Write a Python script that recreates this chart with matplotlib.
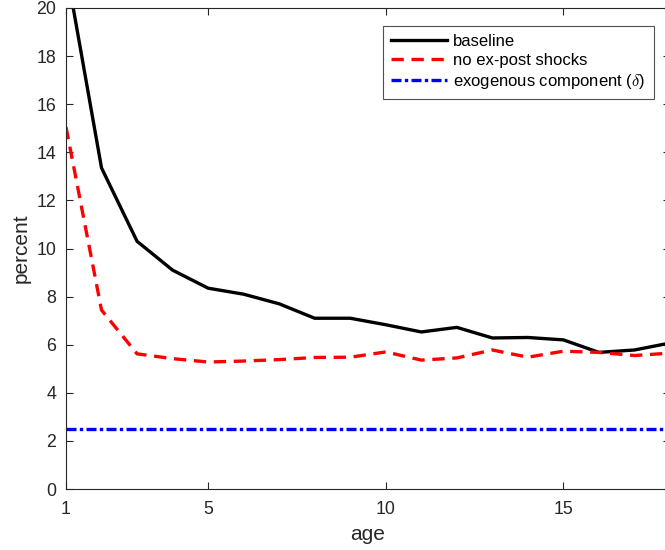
import numpy as np
import matplotlib.pyplot as plt

plt.rcParams['font.family'] = ['Liberation Sans', 'DejaVu Sans']
plt.rcParams['mathtext.fontset'] = 'cm'

age = np.arange(1, 19)
baseline = [21.7, 13.35, 10.3, 9.1, 8.35, 8.1, 7.7, 7.1, 7.1, 6.83,
            6.53, 6.72, 6.28, 6.3, 6.2, 5.68, 5.78, 6.07]
no_expost = [15.05, 7.44, 5.62, 5.42, 5.28, 5.32, 5.38, 5.47, 5.48, 5.7,
             5.36, 5.45, 5.78, 5.48, 5.73, 5.68, 5.55, 5.65]
delta = [2.5] * len(age)

fig = plt.figure(figsize=(6.65, 5.5), dpi=100)
ax = fig.add_axes([66/665, 61/550, 604/665, 481/550])

ax.plot(age, baseline, color='k', lw=2.4, label='baseline')
ax.plot(age, no_expost, color='r', lw=2.4, ls=(0, (3.7, 2.3)), label='no ex-post shocks')
ax.plot(age, delta, color='b', lw=2.4, ls=(0, (3, 1, 1, 1)),
        label=r'exogenous component ($\delta$)')

ax.set_xlim(1, 18)
ax.set_ylim(0, 20)
ax.set_xticks([1, 5, 10, 15])
ax.set_yticks(np.arange(0, 21, 2))
ax.tick_params(direction='in', top=True, right=True, labelsize=12.8,
               colors='#262626', length=5, width=0.8)
ax.tick_params(axis='x', pad=9)
ax.tick_params(axis='y', pad=7)
for s in ax.spines.values():
    s.set_color('#262626')
    s.set_linewidth(0.8)
ax.set_xlabel('age', fontsize=15, color='#262626', labelpad=5)
ax.set_ylabel('percent', fontsize=15, color='#262626', labelpad=4)

leg = ax.legend(loc='upper right', bbox_to_anchor=(0.9735, 0.9626), fontsize=12,
                frameon=True, fancybox=False, edgecolor='#262626',
                handlelength=3.35, borderpad=0.5, labelspacing=0.22,
                handletextpad=0.4, borderaxespad=0)
leg.get_frame().set_linewidth(0.8)

fig.savefig('out.png', dpi=100)
